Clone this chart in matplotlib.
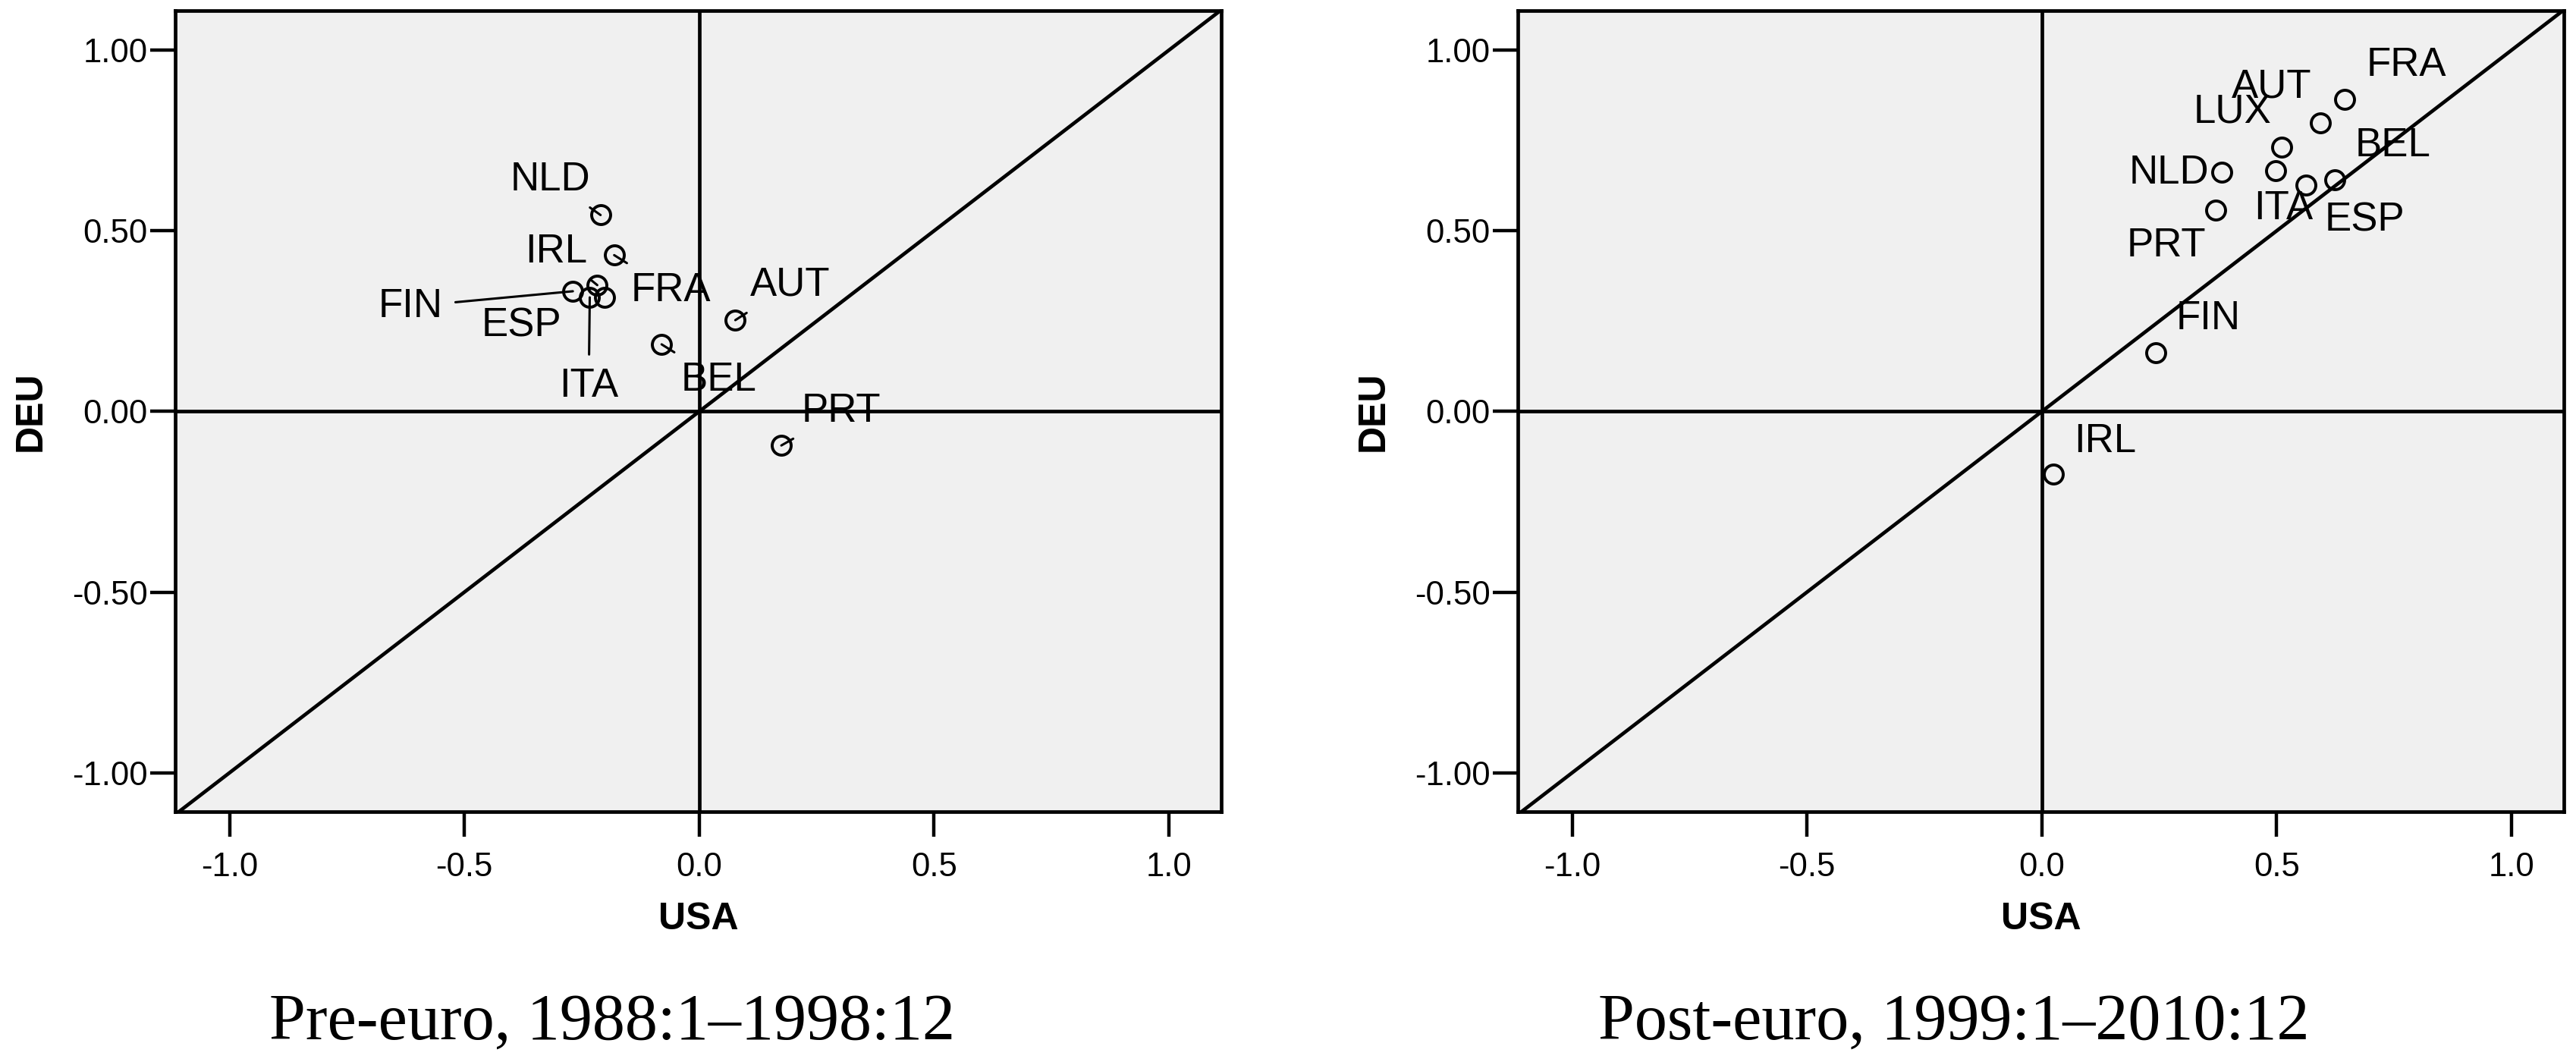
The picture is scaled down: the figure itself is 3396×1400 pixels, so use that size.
import matplotlib
matplotlib.use("Agg")
import matplotlib.pyplot as plt

# values
countries_pre = ["AUT", "BEL", "ESP", "FIN", "FRA", "IRL", "ITA", "NLD", "PRT"]
usa_pre = [0.077, -0.080, -0.202, -0.269, -0.181, -0.217, -0.233, -0.210, 0.175]
deu_pre = [0.253, 0.186, 0.317, 0.333, 0.433, 0.350, 0.316, 0.544, -0.094]

countries_post = ["AUT", "BEL", "ESP", "FIN", "FRA", "IRL", "ITA", "LUX", "NLD", "PRT"]
usa_post = [0.593, 0.624, 0.563, 0.243, 0.645, 0.025, 0.498, 0.511, 0.383, 0.371]
deu_post = [0.800, 0.641, 0.627, 0.162, 0.865, -0.174, 0.667, 0.732, 0.662, 0.557]

x_ticks = [-1.0, -0.5, 0.0, 0.5, 1.0]
y_ticks = [-1.0, -0.5, 0.0, 0.5, 1.0]
titles = ["Pre-euro, 1988:1\u20131998:12", "Post-euro, 1999:1\u20132010:12"]

# label placement (offset points from the marker) and which get leader lines
offsets_pre = {
    "NLD": (-23.8, 16.9), "IRL": (-19.4, 15.8), "FRA": (27, -16.9),
    "FIN": (-77, -7.2), "ESP": (-39.2, -13.7), "ITA": (-0.5, -42.1),
    "AUT": (25.9, 16.6), "BEL": (27, -16.9), "PRT": (28.4, 16.2),
}
offsets_post = {
    "FRA": (29.2, 16), "AUT": (-23, 16.9), "LUX": (-23.4, 16.9),
    "BEL": (27.7, 16.2), "NLD": (-24.8, -0.2), "ITA": (3.6, -18),
    "ESP": (27.7, -16.6), "PRT": (-23.4, -16.9), "FIN": (24.8, 16.4),
    "IRL": (24.5, 15.5),
}
leaders_pre = ["NLD", "IRL", "FRA", "FIN", "ITA", "AUT", "BEL", "PRT"]

plt.rcParams["font.family"] = ["Liberation Sans", "DejaVu Sans"]
plt.rcParams["axes.unicode_minus"] = False

fig = plt.figure(figsize=(16.98, 7.0), dpi=200)
ax_pos = [[0.0680, 0.2357, 0.4061, 0.7543], [0.5892, 0.2357, 0.4061, 0.7543]]
title_x = [0.2377, 0.7585]

panels = [
    (countries_pre, usa_pre, deu_pre, offsets_pre, leaders_pre),
    (countries_post, usa_post, deu_post, offsets_post, []),
]

for i, (names, xs, ys, offs, leaders) in enumerate(panels):
    ax = fig.add_axes(ax_pos[i])
    ax.set_facecolor("#f0f0f0")
    ax.set_xlim(-1.116, 1.112)
    ax.set_ylim(-1.108, 1.110)

    ax.axhline(0, color="black", lw=1.7, zorder=1)
    ax.axvline(0, color="black", lw=1.7, zorder=1)
    ax.axline((0, 0), slope=1, color="black", lw=1.7, zorder=1)

    ax.plot(xs, ys, "o", ms=9, mfc="none", mec="black", mew=1.4, zorder=3)

    for name, x, y in zip(names, xs, ys):
        dx, dy = offs[name]
        if name in leaders:
            arrow = dict(arrowstyle="-", color="black", lw=1.1, shrinkA=4, shrinkB=0)
        else:
            arrow = None
        ax.annotate(name, xy=(x, y), xytext=(dx, dy), textcoords="offset points",
                    ha="center", va="center", fontsize=19, arrowprops=arrow, zorder=4)

    ax.set_xticks(x_ticks)
    ax.set_xticklabels([f"{v:.1f}" for v in x_ticks])
    ax.set_yticks(y_ticks)
    ax.set_yticklabels([f"{v:.2f}" for v in y_ticks])
    ax.tick_params(axis="x", direction="out", length=12, width=1.6, labelsize=15.7, pad=7)
    ax.tick_params(axis="y", direction="out", length=12, width=1.6, labelsize=15.7, pad=1)
    for sp in ax.spines.values():
        sp.set_linewidth(1.7)

    ax.set_xlabel("USA", fontsize=18, fontweight="bold")
    ax.xaxis.set_label_coords(0.5, -0.1345)
    ax.xaxis.label.set_va("center")
    ax.set_ylabel("DEU", fontsize=18, fontweight="bold")
    ax.yaxis.set_label_coords(-0.1378, 0.5)
    ax.yaxis.label.set_va("center")

    fig.text(title_x[i], 0.0214, titles[i], ha="center", va="baseline",
             fontsize=31, family=["Liberation Serif", "DejaVu Serif"])

fig.savefig("out.png", dpi=200)
